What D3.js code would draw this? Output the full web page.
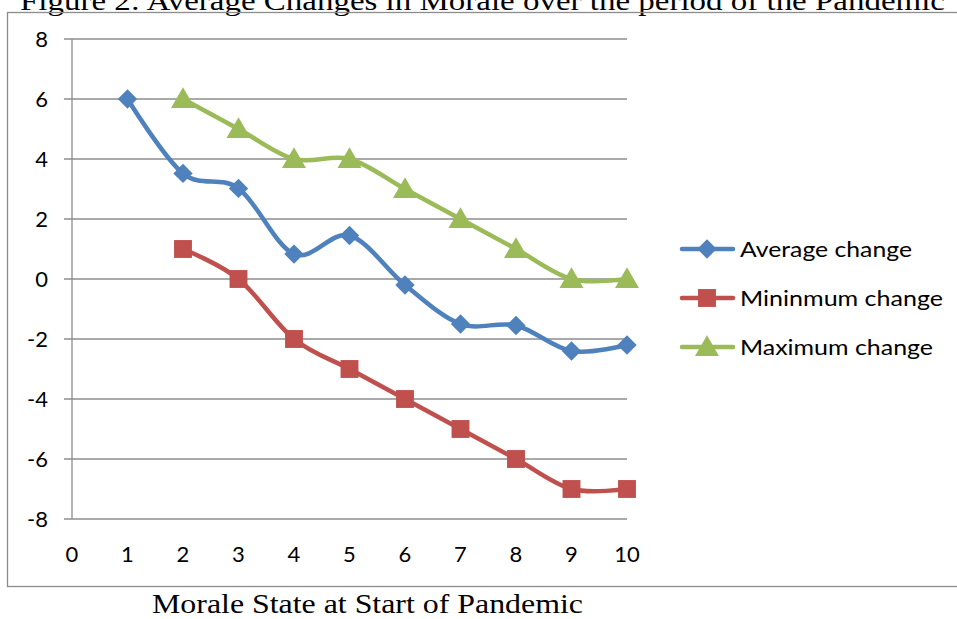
<!DOCTYPE html>
<html>
<head>
<meta charset="utf-8">
<style>
  body { margin: 0; background: #fff; }
  svg { display: block; }
</style>
</head>
<body>
<svg width="957" height="619"></svg>
<script src="https://d3js.org/d3.v7.min.js"></script>
<script>
// data
let xValues = [1, 2, 3, 4, 5, 6, 7, 8, 9, 10];
let averageChange = [6, 3.52, 3.02, 0.83, 1.45, -0.2, -1.5, -1.55, -2.4, -2.2];
let minimumChange = [null, 1, 0, -2, -3, -4, -5, -6, -7, -7];
let maximumChange = [null, 6, 5, 4, 4, 3, 2, 1, 0, 0];
let seriesNames = ["Average change", "Mininmum change", "Maximum change"];
let xTicks = [0, 1, 2, 3, 4, 5, 6, 7, 8, 9, 10];
let yTicks = [-8, -6, -4, -2, 0, 2, 4, 6, 8];

let colors = ["#4f81bd", "#c0504d", "#9bbb59"];
let svg = d3.select("svg");
let labelFont = "Lato, 'Open Sans', sans-serif";
let serif = "'Liberation Serif', 'Times New Roman', serif";

let x = d3.scaleLinear().domain([0, 10]).range([72, 627]);
let y = d3.scaleLinear().domain([-8, 8]).range([519, 39]);

// title (cut off at top, like the reference)
svg.append("text")
  .attr("x", 20).attr("y", 10)
  .attr("font-family", serif)
  .attr("font-size", 27)
  .attr("textLength", 925)
  .attr("lengthAdjust", "spacingAndGlyphs")
  .text("Figure 2: Average Changes in Morale over the period of the Pandemic");

// chart box
svg.append("rect")
  .attr("x", 7.5).attr("y", 12.5)
  .attr("width", 960).attr("height", 574)
  .attr("fill", "none")
  .attr("stroke", "#8c8c8c")
  .attr("stroke-width", 1.3);

// grid
svg.append("g")
  .selectAll("line")
  .data(yTicks)
  .join("line")
  .attr("x1", 64).attr("x2", x(10))
  .attr("y1", d => y(d)).attr("y2", d => y(d))
  .attr("stroke", "#8c8c8c")
  .attr("stroke-width", 1.3);

svg.append("line")
  .attr("x1", x(0)).attr("x2", x(0))
  .attr("y1", y(8)).attr("y2", y(-8))
  .attr("stroke", "#8c8c8c")
  .attr("stroke-width", 1.3);

// y labels
svg.append("g")
  .selectAll("text")
  .data(yTicks)
  .join("text")
  .attr("x", 48).attr("y", d => y(d) + 8)
  .attr("text-anchor", "end")
  .attr("font-family", labelFont)
  .attr("font-size", 22)
  .text(d => d);

// x labels
svg.append("g")
  .selectAll("text")
  .data(xTicks)
  .join("text")
  .attr("x", d => x(d)).attr("y", 562)
  .attr("text-anchor", "middle")
  .attr("font-family", labelFont)
  .attr("font-size", 22)
  .text(d => d);

// x axis title below the box
svg.append("text")
  .attr("x", 152).attr("y", 613)
  .attr("font-family", serif)
  .attr("font-size", 27)
  .attr("textLength", 431)
  .attr("lengthAdjust", "spacingAndGlyphs")
  .text("Morale State at Start of Pandemic");

let allSeries = [averageChange, minimumChange, maximumChange];
let symbols = [
  d3.symbol().type(d3.symbolDiamond2).size(240),
  d3.symbol().type(d3.symbolSquare).size(320),
  d3.symbol().type(d3.symbolTriangle).size(250)
];

let line = d3.line()
  .x(d => x(d[0]))
  .y(d => y(d[1]))
  .curve(d3.curveCardinal.tension(0));

allSeries.forEach((vals, i) => {
  let pts = xValues.map((xv, j) => [xv, vals[j]]).filter(d => d[1] != null);
  svg.append("path")
    .datum(pts)
    .attr("d", line)
    .attr("fill", "none")
    .attr("stroke", colors[i])
    .attr("stroke-width", 4.5)
    .attr("stroke-linejoin", "round")
    .attr("stroke-linecap", "round");
  svg.append("g")
    .selectAll("path")
    .data(pts)
    .join("path")
    .attr("d", symbols[i])
    .attr("transform", d => `translate(${x(d[0])},${y(d[1]) + (i == 2 ? 2 : 0)})`)
    .attr("fill", colors[i]);
});

// legend
let legendWidths = [172, 203, 193];
let legend = svg.append("g")
  .selectAll("g")
  .data(seriesNames)
  .join("g")
  .attr("transform", (d, i) => `translate(0,${249 + i * 49})`);

legend.append("line")
  .attr("x1", 682).attr("x2", 733)
  .attr("y1", 0).attr("y2", 0)
  .attr("stroke", (d, i) => colors[i])
  .attr("stroke-width", 4.5)
  .attr("stroke-linecap", "round");

legend.append("path")
  .attr("d", (d, i) => symbols[i]())
  .attr("transform", (d, i) => `translate(707,${i == 2 ? 2 : 0})`)
  .attr("fill", (d, i) => colors[i]);

legend.append("text")
  .attr("x", 740).attr("y", 8)
  .attr("font-family", labelFont)
  .attr("font-size", 22)
  .attr("textLength", (d, i) => legendWidths[i])
  .attr("lengthAdjust", "spacingAndGlyphs")
  .text(d => d);
</script>
</body>
</html>
